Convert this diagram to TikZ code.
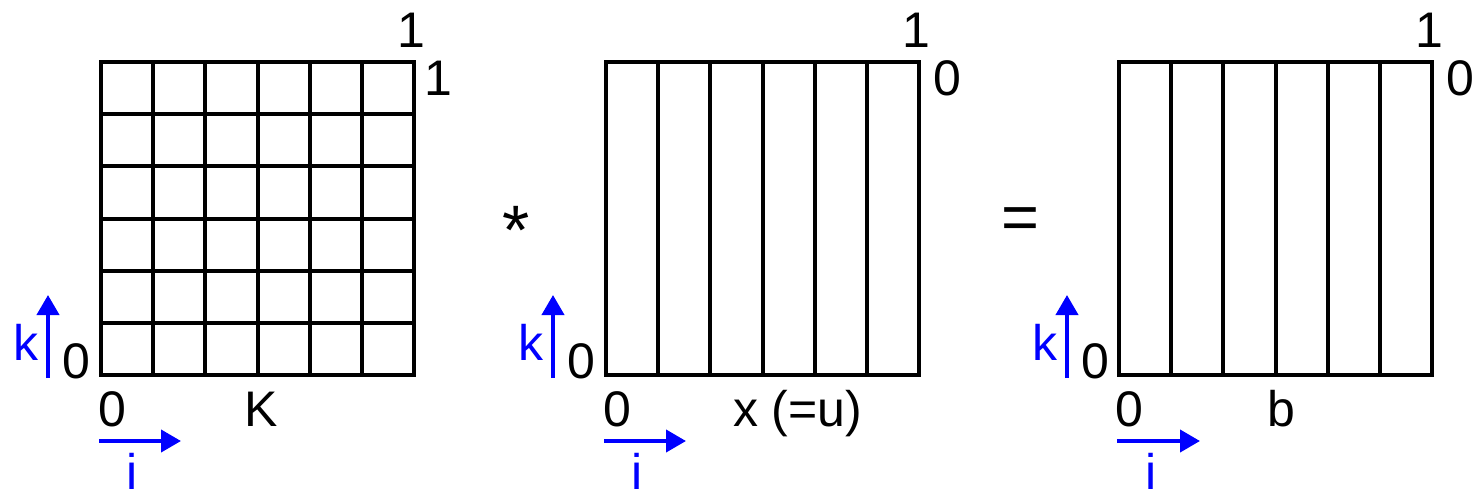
\documentclass[tikz,border=0pt]{standalone}
\usepackage{fontspec}
\setmainfont{Liberation Sans}
\usetikzlibrary{arrows.meta,calc}
\begin{document}
\begin{tikzpicture}[x=1pt,y=-1pt,
  gridbox/.style={draw=black,line width=4pt,minimum size=313pt,inner sep=0pt,outer sep=0pt},
  gline/.style={line width=4pt,black},
  lbl/.style={inner sep=0pt,outer sep=0pt,anchor=base west,font=\fontsize{50}{60}\selectfont},
  blbl/.style={lbl,text=blue},
  oplbl/.style={lbl,font=\fontsize{#1}{#1}\selectfont},
  barrow/.style={line width=4pt,blue,-{Triangle[width=22pt,length=20pt]}}]
\useasboundingbox (0,0) rectangle (1473,491);
% matrix K
\node[gridbox] (K) at (257.5,218.5) {};
\foreach \j in {1,...,5}{
  \draw[gline] ($(K.north west)!\j/6!(K.north east)$) -- ($(K.south west)!\j/6!(K.south east)$);
  \draw[gline] ($(K.north west)!\j/6!(K.south west)$) -- ($(K.north east)!\j/6!(K.south east)$);
}
% vector x
\node[gridbox] (X) at (762.5,218.5) {};
\foreach \j in {1,...,5}{
  \draw[gline] ($(X.north west)!\j/6!(X.north east)$) -- ($(X.south west)!\j/6!(X.south east)$);
}
% vector b
\node[gridbox] (B) at (1275.5,218.5) {};
\foreach \j in {1,...,5}{
  \draw[gline] ($(B.north west)!\j/6!(B.north east)$) -- ($(B.south west)!\j/6!(B.south east)$);
}
% operators
\node[oplbl=70] (star) at (502,254) {*};
\node[oplbl=65] (eq) at (1001,239) {=};
% labels for K
\node[lbl] (K1t) at (397.6,47) {1};
\node[lbl] (K1r) at (424.6,95) {1};
\node[lbl] (K0l) at (62,378) {0};
\node[lbl] (K0b) at (98,426) {0};
\node[lbl] (Kn) at (244,426) {K};
\node[blbl] (Kk) at (13,360) {k};
\node[blbl] (Ki) at (126,489) {i};
\coordinate (Kvs) at (48,378); \coordinate (Kve) at (48,295);
\coordinate (Khs) at (99,441); \coordinate (Khe) at (181,441);
\draw[barrow] (Kvs) -- (Kve);
\draw[barrow] (Khs) -- (Khe);
% labels for x
\node[lbl] (X1t) at (902.6,47) {1};
\node[lbl] (X0r) at (933,95) {0};
\node[lbl] (X0l) at (567,378) {0};
\node[lbl] (X0b) at (603,426) {0};
\node[lbl] (Xn) at (733,426) {x (=u)};
\node[blbl] (Xk) at (518,360) {k};
\node[blbl] (Xi) at (631,489) {i};
\coordinate (Xvs) at (553,378); \coordinate (Xve) at (553,295);
\coordinate (Xhs) at (604,441); \coordinate (Xhe) at (686,441);
\draw[barrow] (Xvs) -- (Xve);
\draw[barrow] (Xhs) -- (Xhe);
% labels for b
\node[lbl] (B1t) at (1415.6,47) {1};
\node[lbl] (B0r) at (1446,95) {0};
\node[lbl] (B0l) at (1081,378) {0};
\node[lbl] (B0b) at (1115,426) {0};
\node[lbl] (Bn) at (1267.5,426) {b};
\node[blbl] (Bk) at (1032,360) {k};
\node[blbl] (Bi) at (1145,489) {i};
\coordinate (Bvs) at (1067,378); \coordinate (Bve) at (1067,295);
\coordinate (Bhs) at (1117,441); \coordinate (Bhe) at (1200,441);
\draw[barrow] (Bvs) -- (Bve);
\draw[barrow] (Bhs) -- (Bhe);
\end{tikzpicture}
\end{document}
